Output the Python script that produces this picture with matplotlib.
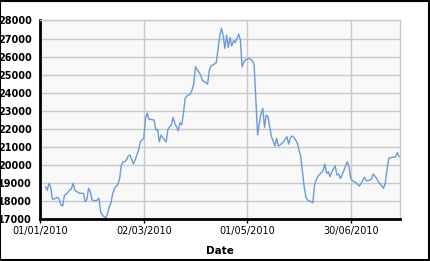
import pandas as pd
import matplotlib
matplotlib.use('Agg')
import matplotlib.pyplot as plt
import matplotlib.dates as mdates
from matplotlib.patches import Rectangle

# days after 01/01/2010 and the value on that day
days = [3, 4, 5, 6, 7, 8, 10, 11, 12, 13, 14, 15, 16, 17, 18, 19, 20, 22, 23, 25,
        26, 27, 28, 29, 30, 32, 33, 34, 35, 36, 37, 38, 39, 40, 41, 42, 43, 45, 46, 47,
        48, 49, 50, 51, 52, 54, 55, 56, 57, 58, 60, 61, 62, 63, 64, 66, 67, 68, 69, 70,
        72, 73, 74, 75, 76, 77, 78, 80, 81, 82, 83, 84, 85, 87, 88, 89, 90, 91, 93, 94,
        96, 97, 98, 99, 101, 102, 103, 104, 105, 106, 107, 108, 109, 110, 111, 112, 113, 114, 115, 116,
        117, 118, 119, 121, 123, 124, 126, 127, 128, 129, 130, 131, 132, 133, 134, 135, 136, 137, 138, 139,
        141, 142, 143, 144, 145, 146, 147, 149, 150, 151, 152, 153, 154, 155, 158, 159, 160, 161, 163, 164,
        165, 166, 167, 168, 169, 171, 172, 173, 174, 176, 178, 179, 180, 181, 183, 185, 186, 188, 189, 190,
        192, 193, 195, 196, 198, 199, 200, 201, 202, 204, 205, 206, 207, 208]
values = [18790, 18600, 18980, 18770, 18100, 18110, 18200, 18090, 17770, 17720, 18330, 18370, 18480, 18600, 18660, 18980, 18600, 18460, 18420, 18420,
          17960, 18090, 18700, 18510, 18050, 18010, 18050, 18150, 17400, 17220, 17130, 17040, 17320, 17680, 17900, 18420, 18700, 18920, 19250, 19990,
          20170, 20170, 20270, 20490, 20550, 20050, 20270, 20550, 20820, 21280, 21470, 22580, 22860, 22520, 22520, 22480, 21930, 21970, 21280, 21650,
          21380, 21280, 21970, 22110, 22210, 22630, 22300, 21890, 22340, 22210, 22860, 23690, 23810, 23920, 24150, 24520, 25440, 25290, 24980, 24660,
          24550, 24480, 25250, 25480, 25590, 25660, 26360, 27100, 27570, 27190, 26450, 27190, 26510, 27060, 26580, 26880, 26770, 27010, 27250, 26920,
          25440, 25680, 25820, 25900, 25770, 25530, 21650, 22300, 22860, 23130, 22080, 22760, 22670, 22110, 21560, 21340, 21040, 21470, 21040, 21100,
          21280, 21420, 21560, 21150, 21470, 21600, 21530, 21230, 20820, 20450, 19620, 18790, 18200, 18050, 17900, 18880, 19160, 19380, 19570, 19680,
          20050, 19530, 19620, 19340, 19620, 19940, 19440, 19480, 19250, 19680, 20170, 19900, 19250, 19120, 19010, 18830, 18980, 19310, 19120, 19120,
          19200, 19490, 19250, 19070, 18830, 18700, 18980, 19710, 20360, 20420, 20420, 20450, 20680, 20450]

tick_dates = ['2010-01-01', '2010-03-02', '2010-05-01', '2010-06-30']
y_ticks = list(range(17000, 28001, 1000))

start = pd.Timestamp('2010-01-01')
dates = start + pd.to_timedelta(days, unit='D')

W, H = 430, 261
fig = plt.figure(figsize=(W / 100, H / 100), dpi=100)
ax = fig.add_axes([0.0937, 0.1609, 0.8363, 0.7606])
ax.set_facecolor('#f8f8f8')

ax.plot(dates, values, color='#6b9bd6', linewidth=1.0)

ax.set_xlim(start, start + pd.Timedelta(days=208.5))
ax.set_ylim(17000, 28000)
ax.set_xticks(pd.to_datetime(tick_dates))
ax.xaxis.set_major_formatter(mdates.DateFormatter('%d/%m/%Y'))
ax.set_yticks(y_ticks)

ax.grid(True, color='#c8c8c8', linewidth=1.0)
ax.set_axisbelow(True)

for s in ['top', 'right']:
    ax.spines[s].set_color('#c8c8c8')
    ax.spines[s].set_linewidth(1.0)
for s in ['left', 'bottom']:
    ax.spines[s].set_color('black')
    ax.spines[s].set_linewidth(2.0)

ax.tick_params(axis='x', length=3, width=1, color='black', labelsize=7, pad=2)
ax.tick_params(axis='y', length=0, labelsize=7, pad=6)
for lab in ax.get_yticklabels():
    lab.set_fontweight('bold')

ax.set_xlabel('Date', fontsize=7.5, fontweight='bold', labelpad=7)

# black frame round the whole picture (thin on the left, like the screenshot)
fig.patches.append(Rectangle((0 / W, 1.5 / H), 429 / W, 258.5 / H, transform=fig.transFigure,
                             fill=False, edgecolor='black', linewidth=1.5))

fig.savefig('out.png', dpi=100)
